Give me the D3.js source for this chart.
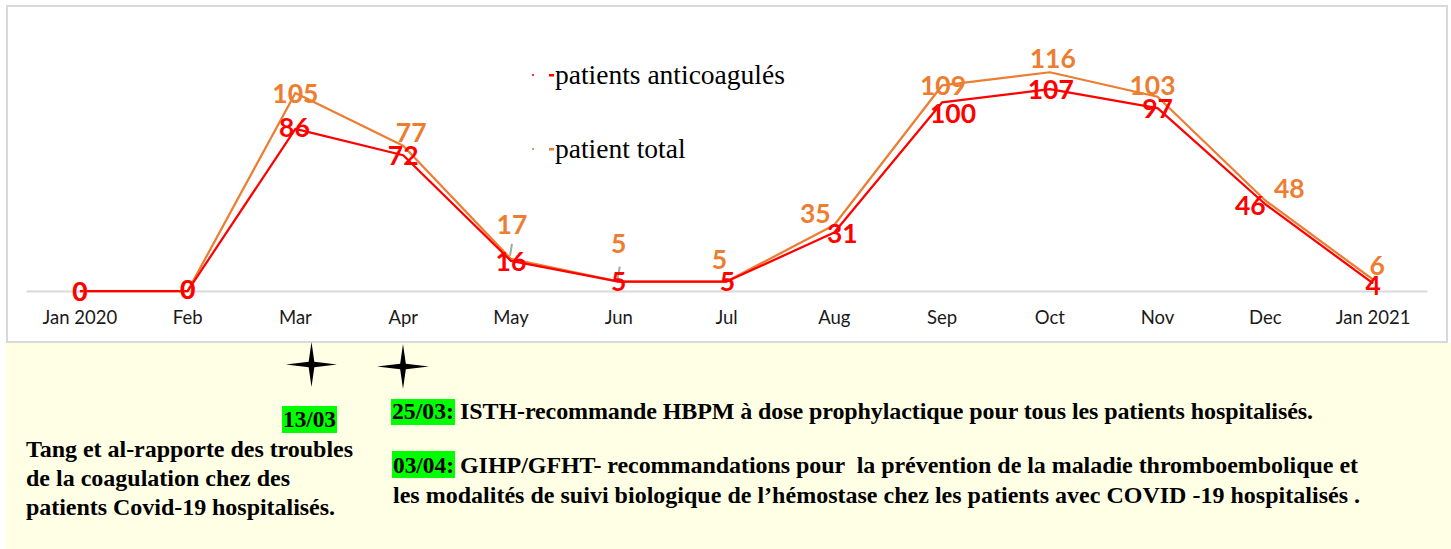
<!DOCTYPE html>
<html>
<head>
<meta charset="utf-8">
<script src="https://cdn.jsdelivr.net/npm/d3@7"></script>
<style>
  html, body { margin: 0; padding: 0; background: #ffffff; }
  svg { display: block; }
</style>
</head>
<body>
<svg id="chart" width="1451" height="549"></svg>
<script>
// ---------- data ----------
const months = ["Jan 2020","Feb","Mar","Apr","May","Jun","Jul","Aug","Sep","Oct","Nov","Dec","Jan 2021"];
const anticoag = [0, 0, 86, 72, 16, 5, 5, 31, 100, 107, 97, 46, 4];
const total    = [0, 0, 105, 77, 17, 5, 5, 35, 109, 116, 103, 48, 6];
const seriesNames = ["patients anticoagulés", "patient total"];

// label offsets (pixels, relative to each point)
const totalLabelDx    = [0, 0, 0, 8, 1, 0, -7, -19, 1, 3, -5, 24, 4];
const totalLabelDy    = [0, -2, 0, -13, -34, -38, -22, -12, 0, -14, -11, -12, -14];
const anticoagLabelDx = [0, 0, -1, 0, 0, 0, 1, 8, 11, 1, 0, -15, 0];
const anticoagLabelDy = [0, -2, -1, 0, 1, 0, 0, 1, 11, 0, 0, 1, 2];
const totalLeader     = [false, false, false, false, true, true, false, false, false, false, false, false, false];

// annotations
const noteLeft = ["Tang et al-rapporte des troubles", "de la coagulation chez des", "patients Covid-19 hospitalisés."];
const note2503 = "ISTH-recommande HBPM à dose prophylactique pour tous les patients hospitalisés.";
const note0304a = "GIHP/GFHT- recommandations pour  la prévention de la maladie thromboembolique et";
const note0304b = "les modalités de suivi biologique de l’hémostase chez les patients avec COVID -19 hospitalisés .";

// ---------- styles ----------
const RED = "#FF0000", ORANGE = "#ED7D31", GRID = "#D9D9D9";
const svg = d3.select("#chart");

// yellow annotation background
svg.append("rect").attr("x", 6).attr("y", 343).attr("width", 1445).attr("height", 206).attr("fill", "#FFFFE6");
// chart frame
svg.append("rect").attr("x", 7).attr("y", 6).attr("width", 1440).attr("height", 336)
  .attr("fill", "#ffffff").attr("stroke", GRID).attr("stroke-width", 2);

// ---------- scales ----------
const x = d3.scaleBand().domain(months).range([26, 1427]).padding(0);
const cx = m => x(m) + x.bandwidth() / 2;
const y = d3.scaleLinear().domain([0, 140]).range([291, 27]);

// axis
const axis = svg.append("g").attr("transform", `translate(0,${y(0)})`)
  .call(d3.axisBottom(x).tickSize(0).tickSizeOuter(0).tickPadding(20));
axis.select(".domain").attr("stroke", GRID).attr("stroke-width", 2);
axis.selectAll("text").attr("font-family", "Lato, Carlito, sans-serif").attr("font-size", 18.5).attr("fill", "#1a1a1a");

// lines
const line = d3.line().x((d, i) => cx(months[i])).y(d => y(d));
svg.append("path").datum(total).attr("d", line).attr("fill", "none").attr("stroke", ORANGE).attr("stroke-width", 2.25).attr("stroke-linejoin", "round");
svg.append("path").datum(anticoag).attr("d", line).attr("fill", "none").attr("stroke", RED).attr("stroke-width", 2.25).attr("stroke-linejoin", "round");

// leader lines
svg.append("g").selectAll("line").data(total.map((v, i) => ({v, i})).filter(d => totalLeader[d.i]))
  .join("line")
  .attr("x1", d => cx(months[d.i]) - 1).attr("x2", d => cx(months[d.i]) + 1)
  .attr("y1", d => y(d.v) - 3).attr("y2", d => y(d.v) - 15)
  .attr("stroke", "#A6A6A6").attr("stroke-width", 2);

// data labels
function labels(data, dxs, dys, color) {
  svg.append("g").selectAll("text").data(data).join("text")
    .attr("x", (d, i) => cx(months[i]) + dxs[i])
    .attr("y", (d, i) => y(d) + dys[i])
    .attr("dy", "0.36em")
    .attr("text-anchor", "middle")
    .attr("font-family", "Lato, Carlito, sans-serif")
    .attr("font-weight", "bold")
    .attr("font-size", 26.5)
    .attr("fill", color)
    .text(d => d);
}
labels(total, totalLabelDx, totalLabelDy, ORANGE);
labels(anticoag, anticoagLabelDx, anticoagLabelDy, RED);

// legend
const legend = svg.append("g");
[RED, ORANGE].forEach((c, i) => {
  const ly = 75 + i * 74;
  legend.append("rect").attr("x", 532).attr("y", ly - 1).attr("width", 2).attr("height", 2).attr("fill", c).attr("opacity", 0.8);
  legend.append("rect").attr("x", 549).attr("y", ly - 1).attr("width", 5).attr("height", 2.5).attr("fill", c);
  legend.append("text").attr("x", 555).attr("y", ly + 9)
    .attr("font-family", "'Liberation Serif', 'Times New Roman', serif")
    .attr("font-size", 27.5).attr("fill", "#000").text(seriesNames[i]);
});

// ---------- annotations ----------
function star(cx0, cy0, rx, ry, r) {
  const pts = [];
  for (let k = 0; k < 8; k++) {
    const a = -Math.PI / 2 + k * Math.PI / 4;
    const outer = k % 2 === 0;
    pts.push([cx0 + Math.cos(a) * (outer ? rx : r), cy0 + Math.sin(a) * (outer ? ry : r)]);
  }
  svg.append("path").attr("d", "M" + pts.map(p => p.join(",")).join("L") + "Z").attr("fill", "#000");
}
star(311.5, 364.5, 25.5, 22.5, 4);
star(403, 366.5, 26, 22.5, 4);

const SERIF = "'Liberation Serif', 'Times New Roman', serif";
function hl(x0, y0, w, h, txt, base) {
  svg.append("rect").attr("x", x0).attr("y", y0).attr("width", w).attr("height", h).attr("fill", "#00FF00");
  svg.append("text").attr("x", x0 + 1).attr("y", base).attr("font-family", SERIF).attr("font-weight", "bold")
    .attr("font-size", 23.5).attr("fill", "#000").attr("textLength", w - 2).attr("lengthAdjust", "spacingAndGlyphs").text(txt);
}
function note(x0, base, w, txt) {
  svg.append("text").attr("x", x0).attr("y", base).attr("font-family", SERIF).attr("font-weight", "bold")
    .attr("font-size", 24).attr("fill", "#000").style("white-space", "pre")
    .attr("textLength", w).attr("lengthAdjust", "spacing").text(txt);
}
hl(282, 406, 55, 27, "13/03", 427);
note(26, 457, 327, noteLeft[0]);
note(26, 486, 264, noteLeft[1]);
note(26, 515, 309, noteLeft[2]);

hl(391, 399, 64, 26, "25/03:", 419);
note(460, 419, 853, note2503);
hl(392, 451, 63, 27, "03/04:", 473);
note(460, 473, 898, note0304a);
note(393, 503, 967, note0304b);
</script>
</body>
</html>
